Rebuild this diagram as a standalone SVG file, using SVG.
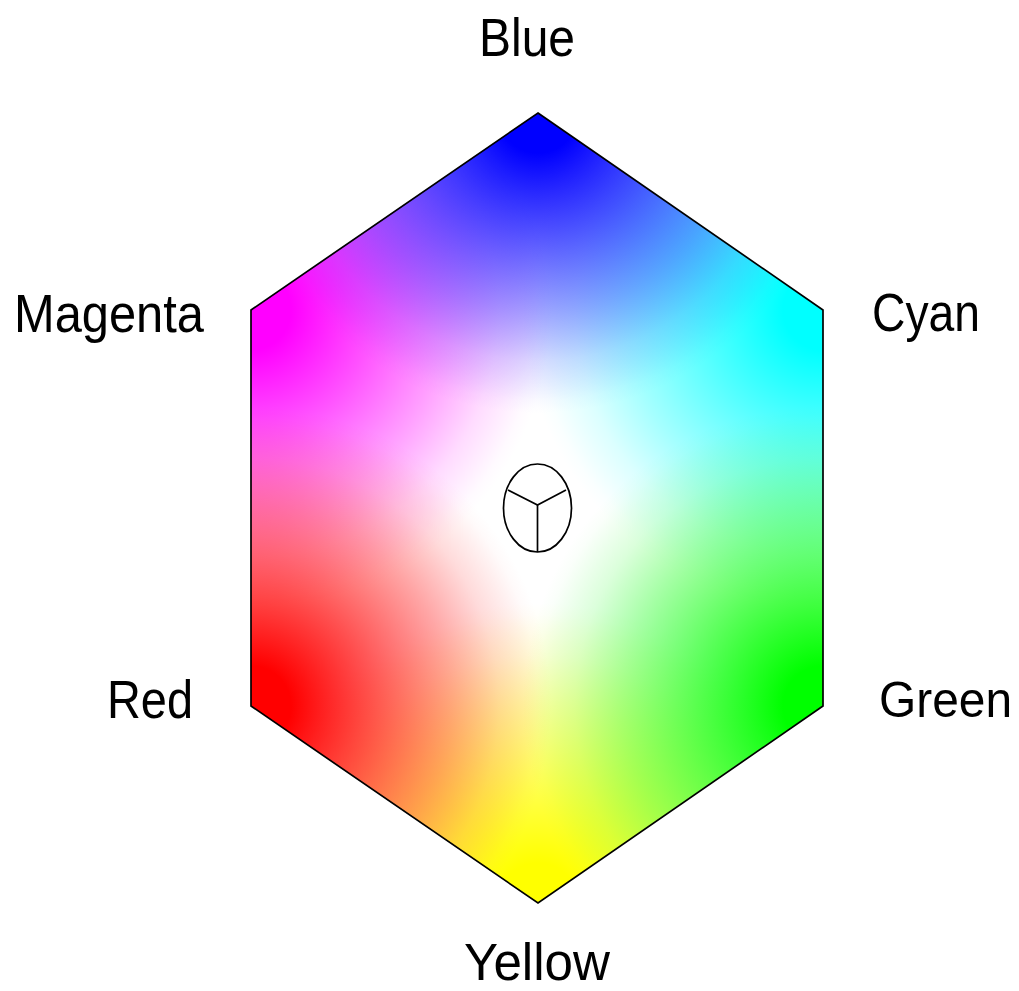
<svg xmlns="http://www.w3.org/2000/svg" width="1019" height="991" viewBox="0 0 1019 991">
<style>
.lbl{font-family:"Liberation Sans",Arial,sans-serif;font-size:53px;fill:#000;}
.mul{mix-blend-mode:multiply;}
.ln{fill:none;stroke:#000;stroke-width:1.7;}
</style>
<defs>
<radialGradient id="gBlue" gradientUnits="userSpaceOnUse" cx="538" cy="113" r="400"><stop offset="0" stop-color="#0000ff"/><stop offset="0.1" stop-color="#0000ff"/><stop offset="0.3" stop-color="#5252ff"/><stop offset="0.5" stop-color="#a6a6ff"/><stop offset="0.62" stop-color="#dbdbff"/><stop offset="0.72" stop-color="#fafaff"/><stop offset="0.75" stop-color="#ffffff"/></radialGradient>
<radialGradient id="gCyan" gradientUnits="userSpaceOnUse" cx="823" cy="310" r="400"><stop offset="0" stop-color="#00ffff"/><stop offset="0.1" stop-color="#00ffff"/><stop offset="0.3" stop-color="#52ffff"/><stop offset="0.5" stop-color="#a6ffff"/><stop offset="0.62" stop-color="#dbffff"/><stop offset="0.72" stop-color="#faffff"/><stop offset="0.75" stop-color="#ffffff"/></radialGradient>
<radialGradient id="gGreen" gradientUnits="userSpaceOnUse" cx="823" cy="706" r="400"><stop offset="0" stop-color="#00ff00"/><stop offset="0.1" stop-color="#00ff00"/><stop offset="0.3" stop-color="#52ff52"/><stop offset="0.5" stop-color="#a6ffa6"/><stop offset="0.62" stop-color="#dbffdb"/><stop offset="0.72" stop-color="#fafffa"/><stop offset="0.75" stop-color="#ffffff"/></radialGradient>
<radialGradient id="gYellow" gradientUnits="userSpaceOnUse" cx="538" cy="903" r="400"><stop offset="0" stop-color="#ffff00"/><stop offset="0.1" stop-color="#ffff00"/><stop offset="0.3" stop-color="#ffff52"/><stop offset="0.5" stop-color="#ffffa6"/><stop offset="0.62" stop-color="#ffffdb"/><stop offset="0.72" stop-color="#fffffa"/><stop offset="0.75" stop-color="#ffffff"/></radialGradient>
<radialGradient id="gRed" gradientUnits="userSpaceOnUse" cx="251" cy="706" r="400"><stop offset="0" stop-color="#ff0000"/><stop offset="0.1" stop-color="#ff0000"/><stop offset="0.3" stop-color="#ff5252"/><stop offset="0.5" stop-color="#ffa6a6"/><stop offset="0.62" stop-color="#ffdbdb"/><stop offset="0.72" stop-color="#fffafa"/><stop offset="0.75" stop-color="#ffffff"/></radialGradient>
<radialGradient id="gMagenta" gradientUnits="userSpaceOnUse" cx="251" cy="310" r="400"><stop offset="0" stop-color="#ff00ff"/><stop offset="0.1" stop-color="#ff00ff"/><stop offset="0.3" stop-color="#ff52ff"/><stop offset="0.5" stop-color="#ffa6ff"/><stop offset="0.62" stop-color="#ffdbff"/><stop offset="0.72" stop-color="#fffaff"/><stop offset="0.75" stop-color="#ffffff"/></radialGradient>
<clipPath id="hexclip"><polygon points="538,113 823,310 823,706 538,903 251,706 251,310"/></clipPath>
</defs>
<rect width="1019" height="991" fill="#fff"/>
<g id="hexagon">
<g clip-path="url(#hexclip)" style="isolation:isolate">
<rect x="240" y="100" width="600" height="820" fill="#fff"/>
<rect class="mul" x="240" y="100" width="600" height="820" fill="url(#gBlue)"/>
<rect class="mul" x="240" y="100" width="600" height="820" fill="url(#gCyan)"/>
<rect class="mul" x="240" y="100" width="600" height="820" fill="url(#gGreen)"/>
<rect class="mul" x="240" y="100" width="600" height="820" fill="url(#gYellow)"/>
<rect class="mul" x="240" y="100" width="600" height="820" fill="url(#gRed)"/>
<rect class="mul" x="240" y="100" width="600" height="820" fill="url(#gMagenta)"/>
</g>
<polygon class="ln" points="538,113 823,310 823,706 538,903 251,706 251,310"/>
</g>
<g id="center-symbol">
<ellipse class="ln" cx="537.5" cy="508" rx="34" ry="44"/>
<polyline class="ln" points="508,490 537.5,505 566,490"/>
<line class="ln" x1="537.5" y1="505" x2="537.5" y2="552"/>
</g>
<g id="label-blue"><text class="lbl" x="479" y="56" textLength="96" lengthAdjust="spacingAndGlyphs">Blue</text></g>
<g id="label-magenta"><text class="lbl" x="14" y="332" textLength="190" lengthAdjust="spacingAndGlyphs">Magenta</text></g>
<g id="label-cyan"><text class="lbl" x="872" y="331" textLength="108" lengthAdjust="spacingAndGlyphs">Cyan</text></g>
<g id="label-red"><text class="lbl" x="107" y="718" textLength="86" lengthAdjust="spacingAndGlyphs">Red</text></g>
<g id="label-green"><text class="lbl" x="879" y="717" textLength="133" lengthAdjust="spacingAndGlyphs" style="font-size:50px">Green</text></g>
<g id="label-yellow"><text class="lbl" x="464" y="980" textLength="146" lengthAdjust="spacingAndGlyphs" style="font-size:51px">Yellow</text></g>
</svg>
